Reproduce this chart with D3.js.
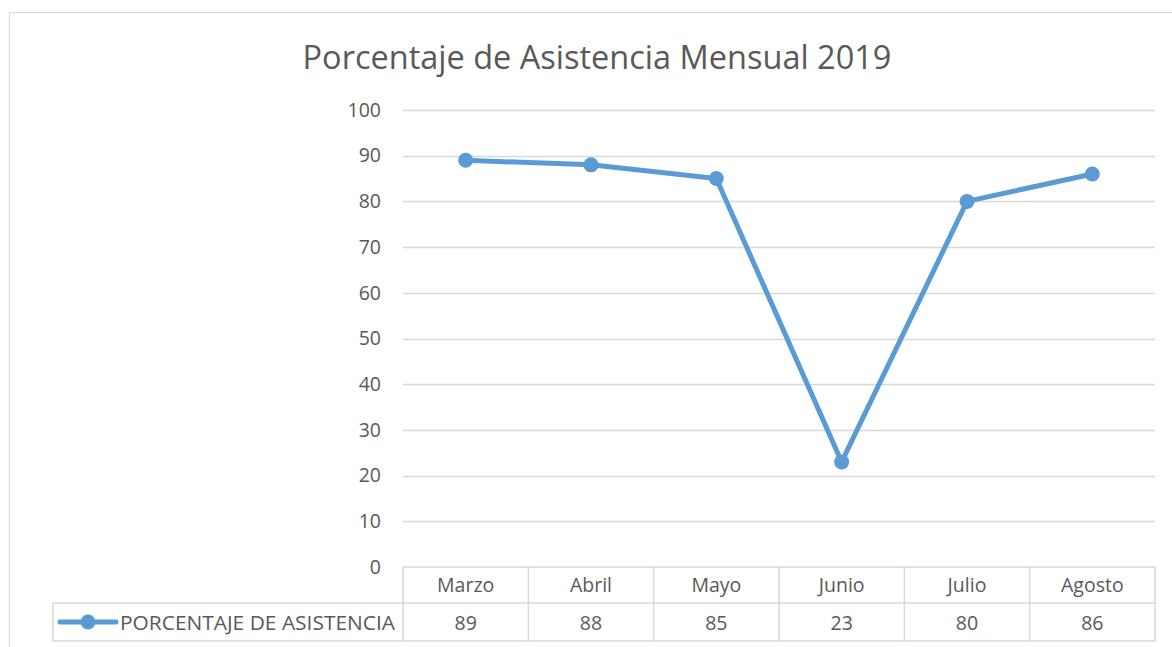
<!DOCTYPE html>
<html>
<head>
<meta charset="utf-8">
<script src="https://cdn.jsdelivr.net/npm/d3@7"></script>
<style>
  body { margin: 0; background: #fff; }
  text { font-family: "Open Sans", "Noto Sans", sans-serif; }
</style>
</head>
<body>
<svg id="chart" width="1172" height="647"></svg>
<script>
const months = ["Marzo", "Abril", "Mayo", "Junio", "Julio", "Agosto"];
const values = [89, 88, 85, 23, 80, 86];
const yTicks = [0, 10, 20, 30, 40, 50, 60, 70, 80, 90, 100];
const seriesName = "PORCENTAJE DE ASISTENCIA";
const chartTitle = "Porcentaje de Asistencia Mensual 2019";

const svg = d3.select("#chart");
const margin = { top: 110, left: 403, right: 17, bottom: 80 };
const width = 1172 - margin.left - margin.right;
const plotBottom = 567;
const lineColor = "#5b9bd5";
const gridColor = "#d9d9d9";
const textColor = "#595959";
const fs = 19.5;

// outer chart frame
svg.append("rect")
  .attr("x", 9.5).attr("y", 12.5)
  .attr("width", 1200).attr("height", 700)
  .attr("fill", "none").attr("stroke", gridColor);

svg.append("text")
  .attr("x", 597).attr("y", 69)
  .attr("text-anchor", "middle")
  .attr("font-size", 32.5)
  .attr("fill", textColor)
  .text(chartTitle);

const x = d3.scaleBand().domain(months).range([margin.left, margin.left + width]);
const y = d3.scaleLinear().domain([0, 100]).range([plotBottom, margin.top]);

// gridlines
svg.append("g")
  .selectAll("line")
  .data(yTicks.filter(d => d > 0))
  .join("line")
  .attr("x1", margin.left).attr("x2", margin.left + width)
  .attr("y1", d => Math.round(y(d)) + 0.5).attr("y2", d => Math.round(y(d)) + 0.5)
  .attr("stroke", gridColor).attr("stroke-width", 1.5);

// y axis labels
const yAxis = svg.append("g")
  .attr("transform", `translate(${margin.left - 22},0)`)
  .call(d3.axisLeft(y).tickValues(yTicks).tickSize(0).tickPadding(0));
yAxis.select(".domain").remove();
yAxis.selectAll("text")
  .attr("font-size", fs)
  .attr("fill", textColor)
  .style("font-family", '"Open Sans", "Noto Sans", sans-serif');

// data table
const rowH = [36, 38];
const table = svg.append("g").attr("stroke", gridColor).attr("stroke-width", 1.5).attr("fill", "none");
const tTop = plotBottom, tMid = plotBottom + rowH[0], tBot = plotBottom + rowH[0] + rowH[1];
table.append("line").attr("x1", margin.left).attr("x2", margin.left + width).attr("y1", tTop).attr("y2", tTop);
table.append("line").attr("x1", 53).attr("x2", margin.left + width).attr("y1", tMid).attr("y2", tMid);
table.append("line").attr("x1", 53).attr("x2", margin.left + width).attr("y1", tBot).attr("y2", tBot);
table.append("line").attr("x1", 53).attr("x2", 53).attr("y1", tMid).attr("y2", tBot);
table.selectAll("line.v")
  .data(months.concat(["end"]))
  .join("line")
  .attr("class", "v")
  .attr("x1", (d, i) => i < months.length ? x(d) : x.range()[1])
  .attr("x2", (d, i) => i < months.length ? x(d) : x.range()[1])
  .attr("y1", tTop).attr("y2", tBot);

svg.append("g")
  .selectAll("text")
  .data(months)
  .join("text")
  .attr("x", d => x(d) + x.bandwidth() / 2)
  .attr("y", tTop + 25)
  .attr("text-anchor", "middle")
  .attr("font-size", fs)
  .attr("fill", textColor)
  .text(d => d);

svg.append("g")
  .selectAll("text")
  .data(values)
  .join("text")
  .attr("x", (d, i) => x(months[i]) + x.bandwidth() / 2)
  .attr("y", tMid + 27)
  .attr("text-anchor", "middle")
  .attr("font-size", fs)
  .attr("fill", textColor)
  .text(d => d);

// legend key in table
const legendY = tMid + rowH[1] / 2;
svg.append("line")
  .attr("x1", 60).attr("x2", 116).attr("y1", legendY).attr("y2", legendY)
  .attr("stroke", lineColor).attr("stroke-width", 5).attr("stroke-linecap", "round");
svg.append("circle")
  .attr("cx", 88).attr("cy", legendY).attr("r", 7.5).attr("fill", lineColor);
svg.append("text")
  .attr("x", 120).attr("y", tMid + 27)
  .attr("font-size", fs)
  .attr("textLength", 275)
  .attr("lengthAdjust", "spacingAndGlyphs")
  .attr("fill", textColor)
  .text(seriesName);

// series line
const pts = values.map((v, i) => ({ x: x(months[i]) + x.bandwidth() / 2, y: y(v) }));
svg.append("path")
  .attr("d", d3.line().x(d => d.x).y(d => d.y)(pts))
  .attr("fill", "none")
  .attr("stroke", lineColor)
  .attr("stroke-width", 5)
  .attr("stroke-linejoin", "round");

svg.append("g")
  .selectAll("circle")
  .data(pts)
  .join("circle")
  .attr("cx", d => d.x).attr("cy", d => d.y)
  .attr("r", 7.5)
  .attr("fill", lineColor);
</script>
</body>
</html>
